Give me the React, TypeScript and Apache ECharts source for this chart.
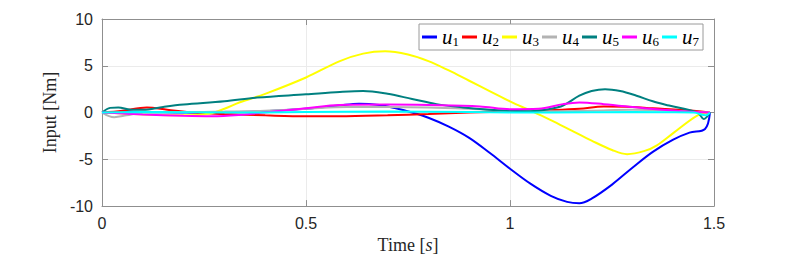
import React, { useEffect, useRef } from "react";
import * as echarts from "echarts";

const seriesNames = ["1", "2", "3", "4", "5", "6", "7"];
const seriesColors = ["#0000ff", "#ff0000", "#ffff00", "#b3b3b3", "#008080", "#ff00ff", "#00ffff"];

const u1T = [0, 0.1, 0.2, 0.3, 0.4, 0.5, 0.58, 0.63, 0.68, 0.72, 0.76, 0.8, 0.85, 0.9, 0.95, 1.0, 1.05, 1.1, 1.14, 1.17, 1.2, 1.25, 1.3, 1.35, 1.4, 1.44, 1.478, 1.49];
const u1V = [0, 0.05, 0.0, 0.05, 0.15, 0.4, 0.75, 0.95, 0.8, 0.45, 0.0, -0.55, -1.5, -2.7, -4.3, -6.0, -7.6, -8.9, -9.55, -9.7, -9.2, -7.7, -5.9, -4.2, -2.9, -2.15, -1.75, 0];

const u2T = [0, 0.05, 0.11, 0.16, 0.22, 0.3, 0.4, 0.5, 0.58, 0.7, 0.8, 0.9, 1.0, 1.1, 1.17, 1.23, 1.3, 1.35, 1.42, 1.49];
const u2V = [0, 0.2, 0.55, 0.3, 0.0, -0.15, -0.3, -0.4, -0.4, -0.3, -0.16, 0.0, 0.1, 0.25, 0.4, 0.65, 0.6, 0.45, 0.3, 0];

const u3T = [0, 0.05, 0.1, 0.2, 0.265, 0.3, 0.338, 0.4, 0.5, 0.583, 0.64, 0.694, 0.75, 0.8, 0.85, 0.9, 0.95, 1.0, 1.05, 1.1, 1.15, 1.2, 1.25, 1.287, 1.33, 1.36, 1.4, 1.46, 1.49];
const u3V = [0, -0.1, -0.2, -0.3, -0.1, 0.4, 1.1, 2.0, 3.75, 5.5, 6.3, 6.55, 6.2, 5.5, 4.5, 3.4, 2.3, 1.2, 0.2, -0.8, -1.9, -3.0, -4.0, -4.45, -4.1, -3.5, -2.2, -0.3, 0];

const u4T = [0, 0.03, 0.06, 0.1, 0.2, 0.3, 0.4, 0.5, 0.6, 0.7, 0.8, 0.9, 1.0, 1.1, 1.2, 1.3, 1.4, 1.49];
const u4V = [0, -0.5, -0.3, 0.0, 0.05, 0.1, 0.2, 0.4, 0.6, 0.6, 0.55, 0.4, 0.2, 0.15, 0.2, 0.3, 0.2, 0];

const u5T = [0, 0.02, 0.04, 0.07, 0.1, 0.15, 0.2, 0.3, 0.38, 0.5, 0.583, 0.64, 0.7, 0.76, 0.82, 0.885, 0.95, 1.0, 1.05, 1.1, 1.13, 1.17, 1.2, 1.233, 1.27, 1.31, 1.35, 1.39, 1.46, 1.475, 1.49];
const u5V = [0, 0.5, 0.55, 0.3, 0.3, 0.6, 0.85, 1.2, 1.6, 1.95, 2.2, 2.3, 2.0, 1.45, 0.9, 0.55, 0.3, 0.2, 0.15, 0.4, 0.75, 1.8, 2.3, 2.5, 2.3, 1.8, 1.2, 0.75, 0, -0.7, 0];

const u6T = [0, 0.05, 0.1, 0.2, 0.27, 0.35, 0.42, 0.5, 0.583, 0.7, 0.8, 0.926, 1.0, 1.07, 1.13, 1.17, 1.23, 1.3, 1.35, 1.42, 1.49];
const u6V = [0, -0.1, -0.2, -0.35, -0.4, -0.2, 0.1, 0.45, 0.8, 0.85, 0.8, 0.65, 0.35, 0.4, 0.9, 1.08, 0.9, 0.6, 0.37, 0.15, 0];

const u7T = [0, 0.1, 0.3, 0.5, 0.7, 0.9, 1.1, 1.3, 1.45, 1.48, 1.49];
const u7V = [0, 0.05, 0.0, 0.05, 0.1, 0.05, 0.0, 0.05, 0.0, -0.3, 0];

const xTicks = { min: 0, max: 1.5, interval: 0.5 };
const yTicks = { min: -10, max: 10, interval: 5 };

const allT = [u1T, u2T, u3T, u4T, u5T, u6T, u7T];
const allV = [u1V, u2V, u3V, u4V, u5V, u6V, u7V];

export default function App() {
  const ref = useRef<HTMLDivElement>(null);
  useEffect(() => {
    if (!ref.current) return;
    const chart = echarts.init(ref.current, null, { renderer: "svg" });
    const axisColor = "#8f8f8f";
    const labelFont = { fontFamily: "Liberation Sans", fontSize: 16, color: "#262626" };
    const series = seriesNames.map((n, i) => ({
      name: "u" + n,
      type: "line",
      data: allT[i].map((t, j) => [t, allV[i][j]]),
      smooth: 0.35,
      showSymbol: false,
      symbol: "none",
      lineStyle: { width: 2, color: seriesColors[i] },
      itemStyle: { color: seriesColors[i] },
      xAxisIndex: 0,
      yAxisIndex: 0,
    }));
    chart.setOption({
      animation: false,
      backgroundColor: "#ffffff",
      grid: { left: 102, top: 19, width: 612, height: 189, containLabel: false },
      legend: {
        left: 419,
        top: 24,
        orient: "horizontal",
        itemWidth: 15,
        itemHeight: 3,
        itemGap: 3,
        icon: "rect",
        padding: [2, 4, 2, 3],
        borderColor: "#9a9a9a",
        borderWidth: 1,
        backgroundColor: "#ffffff",
        data: seriesNames.map((n, i) => ({ name: "u" + n, itemStyle: { color: seriesColors[i] } })),
        formatter: (name: string) => "{u|u}{s|" + name.slice(1) + "}",
        textStyle: {
          rich: {
            u: { fontFamily: "Liberation Serif", fontStyle: "italic", fontSize: 21, color: "#000", lineHeight: 21 },
            s: { fontFamily: "Liberation Serif", fontSize: 13, color: "#000", padding: [9, 0, 0, 0], lineHeight: 21 },
          },
        },
      },
      xAxis: [
        {
          type: "value",
          ...xTicks,
          position: "bottom",
          name: "Time [{i|s}]",
          nameLocation: "middle",
          nameGap: 28,
          nameTextStyle: {
            fontFamily: "Liberation Serif",
            fontSize: 18,
            color: "#262626",
            rich: { i: { fontFamily: "Liberation Serif", fontStyle: "italic", fontSize: 18, color: "#262626" } },
          },
          axisLine: { show: true, onZero: false, lineStyle: { color: axisColor, width: 1 } },
          axisTick: { show: true, inside: true, length: 6, lineStyle: { color: axisColor } },
          axisLabel: { ...labelFont, margin: 9 },
          splitLine: { show: true, lineStyle: { color: "#ebebeb", width: 1 } },
        },
        {
          type: "value",
          ...xTicks,
          position: "top",
          axisLine: { show: true, onZero: false, lineStyle: { color: axisColor, width: 1 } },
          axisTick: { show: true, inside: true, length: 6, lineStyle: { color: axisColor } },
          axisLabel: { show: false },
          splitLine: { show: false },
        },
      ],
      yAxis: [
        {
          type: "value",
          ...yTicks,
          position: "left",
          name: "Input [Nm]",
          nameLocation: "middle",
          nameGap: 42,
          nameRotate: 90,
          nameTextStyle: { fontFamily: "Liberation Serif", fontSize: 18, color: "#262626" },
          axisLine: { show: true, onZero: false, lineStyle: { color: axisColor, width: 1 } },
          axisTick: { show: true, inside: true, length: 6, lineStyle: { color: axisColor } },
          axisLabel: { ...labelFont, margin: 9 },
          splitLine: { show: true, lineStyle: { color: "#ebebeb", width: 1 } },
        },
        {
          type: "value",
          ...yTicks,
          position: "right",
          axisLine: { show: true, onZero: false, lineStyle: { color: axisColor, width: 1 } },
          axisTick: { show: true, inside: true, length: 6, lineStyle: { color: axisColor } },
          axisLabel: { show: false },
          splitLine: { show: false },
        },
      ],
      series,
    });
    return () => chart.dispose();
  }, []);
  return <div ref={ref} style={{ position: "absolute", left: 0, top: 0, width: 789, height: 259 }} />;
}
